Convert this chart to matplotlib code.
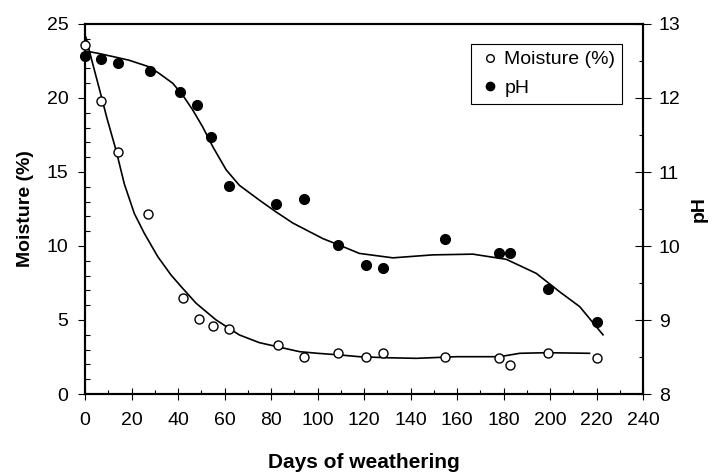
import matplotlib
matplotlib.use("Agg")
import matplotlib.pyplot as plt
from matplotlib.ticker import MultipleLocator
from matplotlib.lines import Line2D

plt.rcParams['font.family'] = ['Liberation Sans', 'DejaVu Sans']

# measured points
moist_days = [0, 7, 14, 27, 42, 49, 55, 62, 83, 94, 109, 121, 128, 155, 178, 183, 199, 220]
moist_vals = [23.6, 19.8, 16.35, 12.15, 6.5, 5.1, 4.6, 4.4, 3.3, 2.5, 2.8, 2.5, 2.8, 2.5, 2.4, 1.95, 2.75, 2.4]

ph_days = [0, 7, 14, 28, 41, 48, 54, 62, 82, 94, 109, 121, 128, 155, 178, 183, 199, 220]
ph_vals = [12.57, 12.53, 12.47, 12.36, 12.08, 11.9, 11.47, 10.81, 10.57, 10.63, 10.01, 9.75, 9.7, 10.1, 9.9, 9.9, 9.42, 8.97]

# trend curves
moist_curve_days = [0.4, 3, 6.2, 9.5, 13.3, 16.9, 21.2, 25.5, 31.3, 37, 42, 47.8, 56.4,
                    66.4, 75, 84, 92.3, 100, 109.5, 118, 130, 142.5, 159.7, 178.3, 187, 198.4, 217]
moist_curve_vals = [24.1, 22.5, 20.6, 18.6, 16.5, 14.2, 12.2, 10.86, 9.28, 8.04, 7.14, 6.13, 5.0,
                    3.99, 3.47, 3.15, 2.86, 2.75, 2.64, 2.52, 2.45, 2.41, 2.52, 2.52, 2.75, 2.79, 2.75]

ph_curve_days = [1.2, 6.2, 12, 19, 27.7, 32, 37.7, 42, 46.3, 50.6, 55, 60.7, 66.4, 75, 82.2,
                 89.4, 102.3, 109.5, 118, 132.4, 149.6, 166.8, 181.2, 194.1, 204.2, 212.8, 222.8]
ph_curve_vals = [12.63, 12.60, 12.56, 12.51, 12.42, 12.33, 12.20, 12.04, 11.84, 11.61, 11.34, 11.03, 10.82, 10.62, 10.46,
                 10.31, 10.10, 10.01, 9.90, 9.84, 9.88, 9.89, 9.82, 9.63, 9.38, 9.18, 8.80]

fig = plt.figure(figsize=(7.12, 4.73), dpi=100)
ax = fig.add_axes([85 / 712, 1 - 394 / 473, (643 - 85) / 712, (394 - 24) / 473])
ax2 = ax.twinx()

ax.plot(moist_curve_days, moist_curve_vals, color='black', lw=1.2, zorder=2)
ax2.plot(ph_curve_days, ph_curve_vals, color='black', lw=1.2, zorder=2)
ax2.plot(ph_days, ph_vals, 'o', color='black', ms=7, zorder=3, clip_on=False)
ax2.plot(moist_days, moist_vals, linestyle='none', marker='o', ms=6.5, mfc='white',
         mec='black', mew=1.0, zorder=4, transform=ax.transData, clip_on=False)

ax.set_xlim(0, 240)
ax.set_ylim(0, 25)
ax2.set_ylim(8, 13)

ax.xaxis.set_major_locator(MultipleLocator(20))
ax.xaxis.set_minor_locator(MultipleLocator(10))
ax.yaxis.set_major_locator(MultipleLocator(5))
ax.yaxis.set_minor_locator(MultipleLocator(1))
ax2.yaxis.set_major_locator(MultipleLocator(1))
ax2.yaxis.set_minor_locator(MultipleLocator(0.5))

for a in (ax, ax2):
    for s in a.spines.values():
        s.set_linewidth(1.5)

ax.tick_params(axis='x', which='major', direction='inout', length=8, width=0.8, pad=9, labelsize=14)
ax.tick_params(axis='x', which='minor', direction='in', length=3, width=0.8)
ax.tick_params(axis='y', which='major', direction='out', length=5, width=0.8, pad=7, labelsize=14)
ax.tick_params(axis='y', which='minor', direction='in', length=3.5, width=0.8)
ax2.tick_params(axis='y', which='major', direction='inout', length=11, width=0.8, pad=6, labelsize=14)
ax2.tick_params(axis='y', which='minor', direction='in', length=3, width=0.8)

ax.set_xlabel('Days of weathering', fontsize=15, fontweight='bold', labelpad=17)
ax.set_ylabel('Moisture (%)', fontsize=14, fontweight='bold', labelpad=9)
ax2.set_ylabel('pH', fontsize=14, fontweight='bold', labelpad=7)

handles = [Line2D([], [], ls='none', marker='o', ms=5.5, mfc='white', mec='black', mew=1.0),
           Line2D([], [], ls='none', marker='o', ms=6, color='black')]
leg = fig.legend(handles, ['Moisture (%)', 'pH'], loc='upper right',
                 bbox_to_anchor=(622 / 712, 1 - 44 / 473), fontsize=14,
                 frameon=True, fancybox=False, edgecolor='black', framealpha=1,
                 handlelength=1.2, handletextpad=0.15, labelspacing=0.55,
                 borderpad=0.35, borderaxespad=0)
leg.get_frame().set_linewidth(0.8)

fig.savefig('out.png', dpi=100)
